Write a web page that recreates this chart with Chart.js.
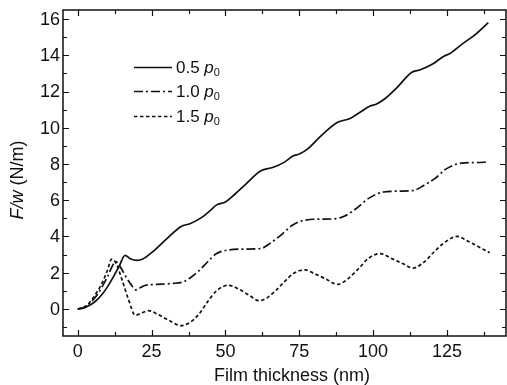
<!DOCTYPE html>
<html>
<head>
<meta charset="utf-8">
<script src="https://cdn.jsdelivr.net/npm/chart.js@4/dist/chart.umd.min.js"></script>
<style>
html,body{margin:0;padding:0;background:#fff;}
#wrap{width:507px;height:385px;position:relative;}
</style>
</head>
<body>
<div id="wrap"><canvas id="c" width="507" height="385"></canvas></div>
<script>
// ---- data ----
const xTickValues = [0, 25, 50, 75, 100, 125];
const yTickValues = [0, 2, 4, 6, 8, 10, 12, 14, 16];
const seriesNames = ['0.5', '1.0', '1.5'];

const x05 = [0,2,4,6,8,10,12,14,16,18,20,22,25,30,35,38,42,45,47,50,53,57,62,66,70,73,75,78,82,88,92,96,99,101,104,108,113,116,120,124,126,130,135,139];
const y05 = [0,0.05,0.2,0.42,0.75,1.2,1.75,2.35,2.95,2.75,2.68,2.75,3.1,3.85,4.55,4.7,5.05,5.45,5.74,5.9,6.3,6.9,7.62,7.8,8.1,8.45,8.55,8.85,9.5,10.3,10.5,10.9,11.2,11.3,11.6,12.2,13.05,13.2,13.5,13.95,14.1,14.6,15.2,15.8];

const x10 = [0,2,4,6,8,10,12,13,14.5,16,18,19.7,21,23,27,32,35.5,38,41,44,47,51,57,62,65,69,72.5,77,82,87,90,94,98.5,103.5,109,114,117,121,124.5,130,135,139];
const y10 = [0,0.06,0.3,0.65,1.15,1.75,2.45,2.6,2.3,1.85,1.35,1.05,1.15,1.3,1.35,1.4,1.48,1.7,2.1,2.6,3.05,3.25,3.3,3.33,3.6,4.1,4.6,4.9,4.95,4.97,5.1,5.5,6.1,6.45,6.5,6.55,6.8,7.2,7.7,8.05,8.08,8.1];

const x15 = [0,2,4,6,8,10,11.5,13,15,17,19.5,22,24,27,31,35,38,41,44,47,51,55,58,61.5,64,67,70,73,77,80,84,88,91,95,98.5,102.5,106,110,113.5,117,121,124.5,128.5,132,136,139.5];
const y15 = [0,0.08,0.35,0.8,1.35,2.1,2.75,2.5,1.6,0.6,-0.35,-0.2,-0.1,-0.3,-0.65,-0.93,-0.75,-0.3,0.4,1.0,1.3,1.05,0.75,0.45,0.6,1.0,1.5,1.95,2.15,1.95,1.65,1.35,1.6,2.2,2.8,3.05,2.8,2.5,2.25,2.55,3.2,3.7,4.0,3.75,3.4,3.1];

const pts = (xs, ys) => xs.map((x, i) => ({x: x, y: ys[i]}));

const FONT = '"Liberation Sans", Arial, Helvetica, sans-serif';
const INK = '#111';
const dashes = [[], [9, 3, 2, 3], [3.5, 2.5]];

const framePlugin = {
  id: 'frame',
  afterDatasetsDraw(chart) {
    const ctx = chart.ctx, a = chart.chartArea;
    const xs = chart.scales.x, ys = chart.scales.y;
    ctx.save();
    ctx.strokeStyle = INK;
    ctx.lineWidth = 1.5;
    ctx.setLineDash([]);
    ctx.strokeRect(a.left, a.top, a.right - a.left, a.bottom - a.top);
    ctx.lineWidth = 1.2;
    ctx.beginPath();
    for (let v = 0; v <= 140; v += 12.5) {
      const major = (v % 25 === 0);
      const L = major ? 6 : 4;
      const px = Math.round(xs.getPixelForValue(v)) + 0.5;
      ctx.moveTo(px, a.bottom); ctx.lineTo(px, a.bottom - L);
      ctx.moveTo(px, a.top); ctx.lineTo(px, a.top + L);
    }
    for (let v = -1; v <= 16; v += 1) {
      const major = (v % 2 === 0);
      const L = major ? 6 : 4;
      const py = Math.round(ys.getPixelForValue(v)) + 0.5;
      ctx.moveTo(a.left, py); ctx.lineTo(a.left + L, py);
      ctx.moveTo(a.right, py); ctx.lineTo(a.right - L, py);
    }
    ctx.stroke();

    // tick labels
    ctx.fillStyle = INK;
    ctx.font = '18px ' + FONT;
    ctx.textBaseline = 'middle';
    ctx.textAlign = 'right';
    yTickValues.forEach(v => ctx.fillText(String(v), a.left - 3, ys.getPixelForValue(v) + 1));
    ctx.textAlign = 'center';
    xTickValues.forEach(v => ctx.fillText(String(v), xs.getPixelForValue(v), a.bottom + 16));

    // legend
    const rows = [67, 91, 116];
    ctx.textBaseline = 'middle';
    rows.forEach((ry, i) => {
      ctx.lineWidth = 1.6;
      ctx.setLineDash(dashes[i]);
      ctx.beginPath();
      ctx.moveTo(134, ry + 0.5); ctx.lineTo(172, ry + 0.5);
      ctx.stroke();
      ctx.setLineDash([]);
      let x = 176;
      ctx.font = '17px ' + FONT;
      ctx.textAlign = 'left';
      const t = seriesNames[i] + ' ';
      ctx.fillText(t, x, ry + 1);
      x += ctx.measureText(t).width;
      ctx.font = 'italic 17px ' + FONT;
      ctx.fillText('p', x, ry + 1);
      x += ctx.measureText('p').width;
      ctx.font = '11px ' + FONT;
      ctx.fillText('0', x, ry + 6);
    });

    // y title
    ctx.save();
    ctx.translate(18, 180);
    ctx.rotate(-Math.PI / 2);
    ctx.textBaseline = 'middle';
    ctx.textAlign = 'left';
    ctx.font = 'italic 18px ' + FONT;
    const w1 = ctx.measureText('F/w').width;
    ctx.font = '18px ' + FONT;
    const w2 = ctx.measureText(' (N/m)').width;
    let sx = -(w1 + w2) / 2;
    ctx.font = 'italic 18px ' + FONT;
    ctx.fillText('F/w', sx, 0);
    ctx.font = '18px ' + FONT;
    ctx.fillText(' (N/m)', sx + w1, 0);
    ctx.restore();

    // x title
    ctx.font = '18px ' + FONT;
    ctx.textAlign = 'center';
    ctx.textBaseline = 'middle';
    ctx.fillText('Film thickness (nm)', 292, 376);
    ctx.restore();
  }
};

new Chart(document.getElementById('c'), {
  type: 'line',
  data: {
    datasets: [
      {label: seriesNames[0], data: pts(x05, y05), borderDash: dashes[0]},
      {label: seriesNames[1], data: pts(x10, y10), borderDash: dashes[1]},
      {label: seriesNames[2], data: pts(x15, y15), borderDash: dashes[2]}
    ].map(d => Object.assign(d, {
      borderColor: INK, borderWidth: 1.7, pointRadius: 0,
      cubicInterpolationMode: 'monotone', fill: false
    }))
  },
  options: {
    responsive: false,
    animation: false,
    devicePixelRatio: 1,
    layout: {padding: {top: 10, right: 1, left: 0, bottom: 0}},
    plugins: {legend: {display: false}, tooltip: {enabled: false}},
    scales: {
      x: {
        type: 'linear', min: -5, max: 145,
        grid: {display: false, drawTicks: false}, border: {display: false},
        afterBuildTicks: s => { s.ticks = xTickValues.map(v => ({value: v})); },
        afterFit: s => { s.height = 49; },
        ticks: {display: false}
      },
      y: {
        type: 'linear', min: -1.5, max: 16.5,
        grid: {display: false, drawTicks: false}, border: {display: false},
        afterBuildTicks: s => { s.ticks = yTickValues.map(v => ({value: v})); },
        afterFit: s => { s.width = 63; },
        ticks: {display: false}
      }
    }
  },
  plugins: [framePlugin]
});
</script>
</body>
</html>
